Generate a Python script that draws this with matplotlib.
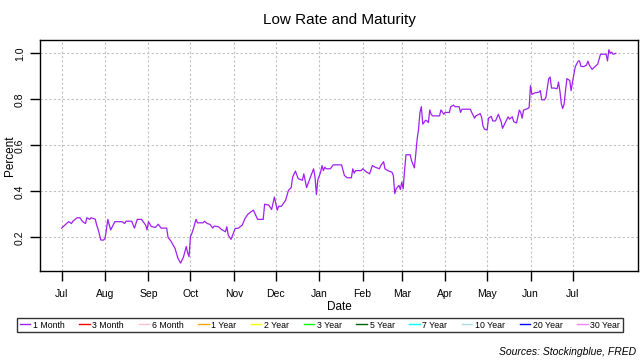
import matplotlib
matplotlib.use("Agg")
import matplotlib.pyplot as plt
from matplotlib.lines import Line2D
import pandas as pd

plt.rcParams['font.family'] = ['Liberation Sans', 'DejaVu Sans']

start_date = "2016-07-01"
day_offsets = [
    0, 4, 5, 7, 8, 11, 13, 15, 17, 18, 20, 21, 24, 25, 26, 28, 30, 31, 33, 34,
    35, 38, 43, 45, 46, 50, 52, 54, 57, 60, 61, 62, 64, 67, 69, 71, 75, 76, 78, 80,
    81, 83, 85, 87, 89, 90, 91, 92, 93, 94, 96, 97, 101, 102, 104, 106, 108, 109, 112, 114,
    117, 118, 119, 121, 124, 126, 129, 131, 133, 136, 137, 140, 144, 145, 148, 150, 152, 154, 155, 157,
    160, 162, 164, 165, 167, 169, 172, 173, 175, 177, 180, 181, 182, 183, 185, 186, 187, 188, 189, 192,
    194, 200, 202, 204, 207, 208, 209, 210, 214, 215, 218, 220, 222, 224, 227, 228, 230, 231, 233, 236,
    237, 238, 239, 241, 242, 243, 244, 245, 246, 249, 250, 252, 253, 254, 255, 256, 257, 258, 260, 261,
    262, 263, 264, 265, 270, 271, 273, 274, 277, 278, 280, 281, 284, 285, 286, 292, 293, 295, 296, 299,
    300, 301, 302, 304, 305, 307, 308, 310, 312, 314, 315, 317, 319, 320, 322, 323, 325, 327, 328, 329,
    330, 333, 334, 335, 336, 338, 341, 342, 343, 345, 346, 348, 349, 350, 352, 354, 355, 356, 357, 358,
    359, 360, 361, 363, 364, 365, 367, 369, 370, 371, 373, 375, 376, 377, 379, 381, 383, 385, 389, 390,
    391, 392, 393, 394, 396,
]
low_rate = [
    0.240, 0.263, 0.268, 0.260, 0.270, 0.285, 0.285, 0.268, 0.260, 0.285, 0.278, 0.285, 0.279, 0.253, 0.235, 0.188, 0.188, 0.196, 0.278, 0.253,
    0.232, 0.268, 0.268, 0.260, 0.270, 0.270, 0.240, 0.278, 0.278, 0.253, 0.232, 0.268, 0.247, 0.243, 0.257, 0.240, 0.240, 0.200, 0.184, 0.162,
    0.152, 0.109, 0.088, 0.114, 0.160, 0.133, 0.116, 0.203, 0.217, 0.235, 0.278, 0.263, 0.263, 0.270, 0.260, 0.256, 0.240, 0.249, 0.246, 0.235,
    0.224, 0.246, 0.210, 0.191, 0.239, 0.239, 0.253, 0.282, 0.300, 0.314, 0.318, 0.278, 0.278, 0.344, 0.340, 0.321, 0.375, 0.318, 0.335, 0.335,
    0.361, 0.404, 0.416, 0.462, 0.488, 0.455, 0.448, 0.476, 0.416, 0.450, 0.498, 0.462, 0.386, 0.450, 0.483, 0.512, 0.490, 0.505, 0.498, 0.498,
    0.515, 0.515, 0.469, 0.459, 0.459, 0.498, 0.479, 0.490, 0.490, 0.498, 0.483, 0.476, 0.512, 0.505, 0.498, 0.512, 0.529, 0.498, 0.490, 0.483,
    0.468, 0.390, 0.411, 0.426, 0.408, 0.440, 0.411, 0.490, 0.559, 0.559, 0.533, 0.502, 0.562, 0.628, 0.671, 0.743, 0.768, 0.692, 0.709, 0.706,
    0.699, 0.754, 0.735, 0.728, 0.728, 0.754, 0.735, 0.743, 0.743, 0.768, 0.775, 0.768, 0.768, 0.743, 0.757, 0.757, 0.743, 0.718, 0.728, 0.738,
    0.724, 0.685, 0.671, 0.666, 0.718, 0.726, 0.706, 0.706, 0.735, 0.703, 0.674, 0.699, 0.724, 0.714, 0.724, 0.703, 0.697, 0.753, 0.743, 0.718,
    0.753, 0.760, 0.764, 0.860, 0.821, 0.828, 0.831, 0.838, 0.798, 0.798, 0.809, 0.890, 0.897, 0.849, 0.849, 0.846, 0.875, 0.836, 0.781, 0.760,
    0.779, 0.838, 0.890, 0.882, 0.838, 0.876, 0.942, 0.966, 0.967, 0.944, 0.942, 0.949, 0.966, 0.949, 0.930, 0.942, 0.953, 0.996, 0.996, 0.967,
    1.016, 1.000, 1.005, 0.996, 1.000,
]

month_ticks = ["2016-07-01", "2016-08-01", "2016-09-01", "2016-10-01", "2016-11-01", "2016-12-01",
               "2017-01-01", "2017-02-01", "2017-03-01", "2017-04-01", "2017-05-01", "2017-06-01",
               "2017-07-01"]
month_labels = ["Jul", "Aug", "Sep", "Oct", "Nov", "Dec", "Jan", "Feb", "Mar", "Apr", "May", "Jun", "Jul"]
y_ticks = [0.2, 0.4, 0.6, 0.8, 1.0]
y_labels = ["0.2", "0.4", "0.6", "0.8", "1.0"]

legend_labels = ["1 Month", "3 Month", "6 Month", "1 Year", "2 Year", "3 Year",
                 "5 Year", "7 Year", "10 Year", "20 Year", "30 Year"]
legend_colors = ["#A020F0", "#FF0000", "#FFC0CB", "#FFA500", "#FFFF00", "#00FF00",
                 "#006400", "#00FFFF", "#ADD8E6", "#0000FF", "#EE82EE"]

start = pd.Timestamp(start_date)
dates = [start + pd.Timedelta(days=d) for d in day_offsets]

fig = plt.figure(figsize=(6.4, 3.6), dpi=100)
ax = fig.add_axes([40/640, 89/360, 598/640, 231/360])

ax.plot(dates, low_rate, color="#A020F0", lw=0.9)

ax.set_xlim(start - pd.Timedelta(days=15.5), start + pd.Timedelta(days=411.8))
ax.set_ylim(0.0535, 1.058)

tick_dates = [pd.Timestamp(t) for t in month_ticks]
ax.set_xticks(tick_dates)
ax.set_xticklabels(month_labels, fontsize=7.5)
ax.set_yticks(y_ticks)
ax.set_yticklabels(y_labels, fontsize=7.5, rotation=90, va="center")

ax.tick_params(axis="x", length=7.3, width=1.0, pad=6)
ax.tick_params(axis="y", length=7.3, width=1.0, pad=3.5)

ax.grid(True, color="#c0c0c0", linestyle=(0, (2, 2)), linewidth=0.8)
ax.set_axisbelow(True)
for s in ax.spines.values():
    s.set_linewidth(1.0)
    s.set_color("black")

fig.text(339/640, 1 - 20/360, "Low Rate and Maturity", ha="center", va="center", fontsize=11)
fig.text(10/640, 1 - 156/360, "Percent", ha="center", va="center", rotation=90, fontsize=8.5)
fig.text(339/640, 1 - 307/360, "Date", ha="center", va="center", fontsize=8.5)
fig.text(636/640, 1 - 352/360, "Sources: Stockingblue, FRED", ha="right", va="center",
         fontsize=7.5, style="italic")

handles = [Line2D([0], [0], color=c, lw=1) for c in legend_colors]
leg = fig.legend(handles, legend_labels, loc="center", ncol=11,
                 bbox_to_anchor=(17/640, 27/360, 606/640, 16/360), mode="expand",
                 fontsize=6.3, frameon=True, fancybox=False, handlelength=1.2,
                 handletextpad=0.3, columnspacing=0.8, borderpad=0.3, borderaxespad=0)
leg.get_frame().set_edgecolor("black")
leg.get_frame().set_linewidth(1.0)

fig.savefig("out.png", dpi=100)
